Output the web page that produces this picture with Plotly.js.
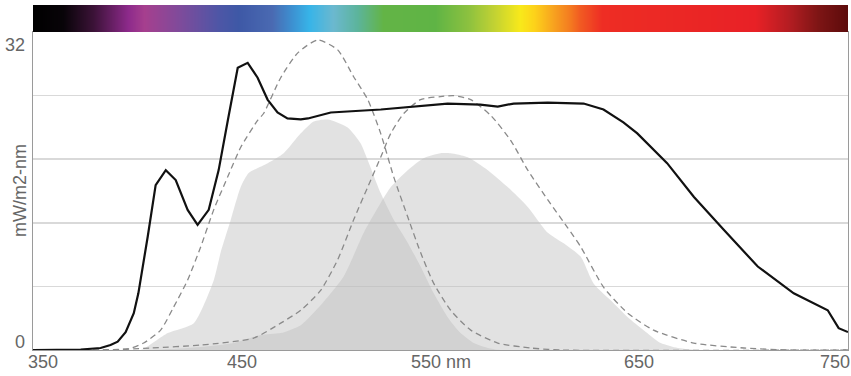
<!DOCTYPE html>
<html>
<head>
<meta charset="utf-8">
<script src="https://cdn.plot.ly/plotly-3.0.1.min.js"></script>
<style>html,body{margin:0;padding:0;background:#fff;}#chart{width:851px;height:376px;}</style>
</head>
<body>
<div id="chart"></div>
<script>
// Light source spectral power distribution (black line)
const spdWavelength = [345,359,369,379,384,387.6,391.6,395.7,398,402.7,406.7,411.8,416.8,422.8,427.8,433.4,438.4,443,448,453,458,463,468,473,479.7,483.3,494.8,520,536.5,553.6,570,578.8,586.8,604,622,632,642,649,664,677.5,692.5,709.6,727.7,744.8,750.3,755];
const spdValue = [0,0,0.05,0.2,0.5,0.84,1.8,3.7,5.7,11.4,16.6,18.1,17.1,14.1,12.6,14.1,18.1,23.1,28.4,28.9,27.4,25.2,23.9,23.3,23.2,23.3,23.9,24.2,24.5,24.8,24.7,24.5,24.8,24.9,24.8,24.2,22.9,21.8,18.8,15.4,12.1,8.4,5.7,4.0,2.2,1.8];

// Dashed sensitivity curve 1 (peak ~488 nm)
const curve1Wavelength = [345,380,392.7,400.7,409.2,415.7,422.7,429.4,435.9,442.9,449.5,458,461,469.6,478.2,488.2,498.3,506.3,513.4,519.9,526.5,533.5,540,546.6,555.1,565.2,578.8,595.4,610.5,755];
const curve1Value = [0,0,0.1,0.7,2.0,4.3,7.0,10.4,14.1,17.4,20.4,23.1,23.8,27.4,29.9,31.2,30.2,27.5,25.2,21.8,17.4,13.4,9.8,6.7,4.0,2.0,0.7,0.2,0,0];

// Dashed sensitivity curve 2 (peak ~556 nm)
const curve2Wavelength = [345,379,404.2,429.4,456,469.6,479.7,489.7,498.3,506.3,513.4,519.9,525,531.5,540,550,556.6,565.2,575.3,585.3,593.9,604,614,620.5,632.1,644.2,657.2,677.4,702.6,726,755];
const curve2Value = [0,0,0.2,0.5,1.2,2.7,4.0,6.0,9.1,13.1,16.4,19.4,21.8,23.8,25.2,25.5,25.6,25.2,23.6,21.1,18.1,15.1,12.3,10.4,6.3,3.7,2.0,0.7,0.2,0,0];

// Grey area 1 (left)
const area1Wavelength = [345,399.2,400.7,412.8,425.9,435.9,439.4,444.5,449.5,453.5,463.1,471.1,479.7,486.2,493.3,503.3,509.8,513.4,519.9,526.5,533.5,540,546.6,553.6,560.1,566.7,573.8,580,755];
const area1Value = [0,0,0.1,1.7,2.7,7.0,9.8,13.1,16.4,17.8,18.8,19.8,21.8,23.0,23.2,22.4,20.8,19.1,15.8,13.1,10.8,8.4,5.7,3.3,1.7,0.7,0.2,0,0];

// Grey area 2 (right)
const area2Wavelength = [345,404.2,429.4,446,459.6,469.6,479.7,489.7,501.3,511.4,519.9,525,533.5,541.5,550,555.1,563.7,573.8,583.8,593.9,604,613,620.5,627,635.6,644.2,652.2,660.8,669.4,681,755];
const area2Value = [0,0,0.3,0.7,1.5,1.7,2.5,4.5,7.4,11.8,14.8,16.4,18.1,19.3,19.8,19.8,19.4,18.1,16.4,14.4,11.8,10.6,9.4,6.7,5.0,3.3,2.0,0.7,0.2,0,0];

// Visible spectrum colour bar
const spectrumWavelength = [345,360,375,393,401,419,438,448,465,475,484,496,508,521,547,564,577,590,597,607,615,620,631,708,725,740,755];
const spectrumColor = ['#000000','#080408','#3b1237','#8d2a8b','#a63f8e','#7e4b9b','#4e56a6','#3e58a6','#4a6ab2','#3d8fd0','#37b4e8','#6bb8cf','#5cb49c','#63b446','#5fb445','#8cc13f','#c2d233','#f8e91a','#fdd21a','#f7a01f','#f47a20','#f15a22','#ee2d24','#e82126','#b51d22','#7d1515','#5c0b0b'];

const xTickVals = [350,450,550,650,750];
const xTickText = ['350','450','550 nm','650','750'];
const yLabels = ['0','32'];
const yTitle = 'mW/m2-nm';

const xMin = 345, xMax = 755, yMax = 32;
const FONT = 'Liberation Sans, Arial, Helvetica, sans-serif';
const TXT = '#666666';

const specLo = spectrumWavelength[0], specHi = spectrumWavelength[spectrumWavelength.length-1];
const colorscale = spectrumWavelength.map((w,i)=>[(w-specLo)/(specHi-specLo), spectrumColor[i]]);

const traces = [
  {type:'heatmap', x: spectrumWavelength, y:[0], z:[spectrumWavelength], zmin:specLo, zmax:specHi,
   colorscale: colorscale, zsmooth:'best', showscale:false, xaxis:'x', yaxis:'y2', hoverinfo:'skip'},
  {type:'scatter', mode:'none', x: area1Wavelength, y: area1Value, fill:'tozeroy',
   fillcolor:'rgba(188,188,188,0.44)', line:{shape:'spline', smoothing:0.6, width:0}},
  {type:'scatter', mode:'none', x: area2Wavelength, y: area2Value, fill:'tozeroy',
   fillcolor:'rgba(188,188,188,0.44)', line:{shape:'spline', smoothing:0.6, width:0}},
  {type:'scatter', mode:'lines', x: curve1Wavelength, y: curve1Value,
   line:{color:'#8a8a8a', width:1.3, dash:'6px,4px', shape:'spline', smoothing:0.6}},
  {type:'scatter', mode:'lines', x: curve2Wavelength, y: curve2Value,
   line:{color:'#8a8a8a', width:1.3, dash:'6px,4px', shape:'spline', smoothing:0.6}},
  {type:'scatter', mode:'lines', x: spdWavelength, y: spdValue,
   line:{color:'#111111', width:2.2, shape:'linear'}}
];

const plotTop = 32, plotBottom = 350, barTop = 5;
const mainFrac = (plotBottom - plotTop) / (plotBottom - barTop);

const annotations = [
  {xref:'paper', yref:'y', x:0, y:yMax, xanchor:'right', yanchor:'top', xshift:-6, yshift:-1,
   text:yLabels[1], showarrow:false, font:{family:FONT, size:18, color:TXT}},
  {xref:'paper', yref:'y', x:0, y:0, xanchor:'right', yanchor:'bottom', xshift:-6, yshift:-4,
   text:yLabels[0], showarrow:false, font:{family:FONT, size:18, color:TXT}},
  {xref:'paper', yref:'y', x:0, y:yMax/2, xanchor:'center', yanchor:'middle', xshift:-13,
   text:yTitle, textangle:-90, showarrow:false, font:{family:FONT, size:18, color:TXT}}
];
xTickVals.forEach((v,i)=>{
  const last = i === xTickVals.length-1;
  annotations.push({xref:'x', yref:'paper', x:v, y:0, xanchor: last ? 'right' : 'center', yanchor:'top',
    xshift: last ? 13 : 0, yshift:-1, text:xTickText[i], showarrow:false, borderpad:0,
    font:{family:FONT, size:18, color:TXT}});
});

const layout = {
  width: 851, height: 376,
  margin: {l:33, r:3, t:barTop, b:376-plotBottom, pad:0},
  paper_bgcolor:'#ffffff', plot_bgcolor:'#ffffff',
  showlegend:false,
  font:{family:FONT, size:18, color:TXT},
  xaxis:{range:[xMin,xMax], tickvals:xTickVals, showticklabels:false, ticks:'', showgrid:false,
         zeroline:false, showline:true, linecolor:'#9a9a9a', linewidth:1.2, mirror:true, fixedrange:true},
  yaxis:{domain:[0, mainFrac], range:[0,yMax], dtick:6.4, tick0:0, showticklabels:false, ticks:'',
         showgrid:true, gridcolor:'#d9d9d9', gridwidth:1.5, zeroline:false,
         showline:true, linecolor:'#9a9a9a', linewidth:1.2, mirror:true, fixedrange:true},
  yaxis2:{domain:[mainFrac, 1], range:[-0.5,0.5], showticklabels:false, showgrid:false, zeroline:false, ticks:'', fixedrange:true},
  annotations: annotations
};

Plotly.newPlot('chart', traces, layout, {staticPlot:true, displayModeBar:false});
</script>
</body>
</html>
